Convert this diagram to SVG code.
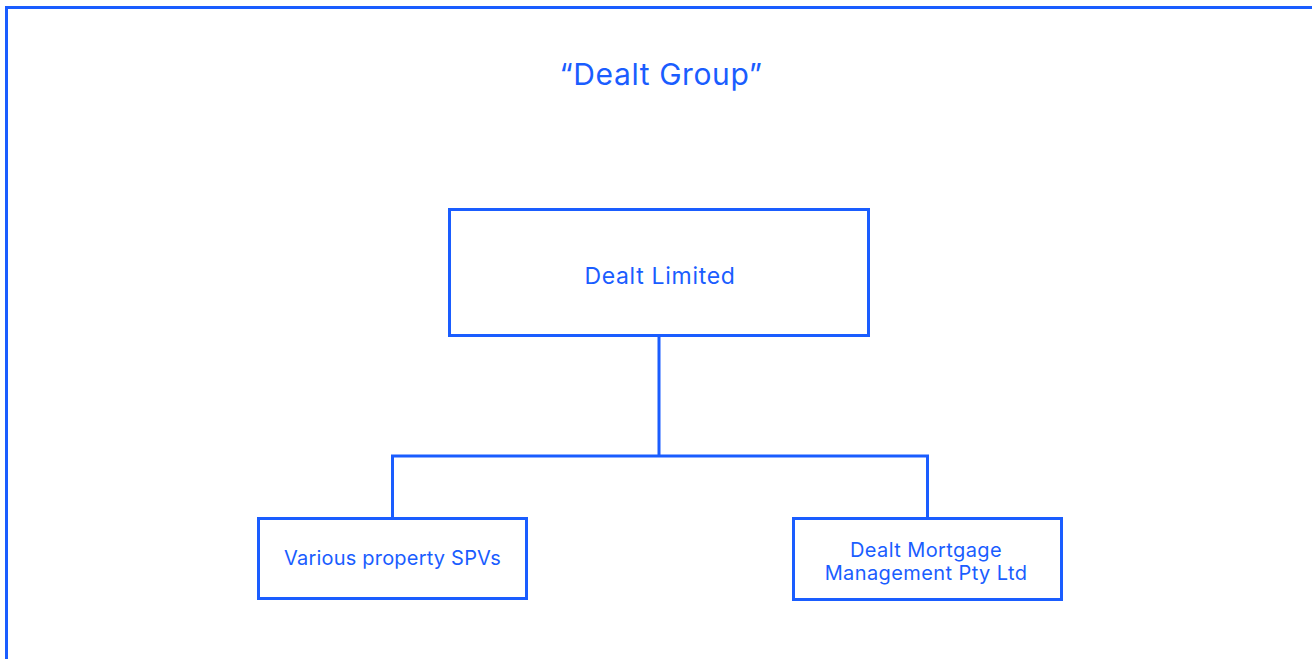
<svg xmlns="http://www.w3.org/2000/svg" width="1312" height="659" viewBox="0 0 1312 659">
<style>
.box{fill:#fff;stroke:#1a5dff;stroke-width:3}
.t{font-family:Inter,"Noto Sans",sans-serif;fill:#1a5dff;text-anchor:middle}
.c{fill:none;stroke:#1a5dff;stroke-width:3}
</style>
<rect x="0" y="0" width="1312" height="659" fill="#fff"/>
<rect x="6.5" y="7.5" width="1320" height="670" fill="none" stroke="#1a5dff" stroke-width="3"/>
<text class="t" x="661" y="85" font-size="30" letter-spacing="0.6">“Dealt Group”</text>
<g id="connectors">
<path class="c" d="M659 337V456M392.5 517.5V456H927.5V517.5"/>
</g>
<g id="dealt-limited">
<rect class="box" x="449.5" y="209.5" width="419" height="126"/>
<text class="t" x="660" y="284" font-size="23" letter-spacing="0.7">Dealt Limited</text>
</g>
<g id="spvs">
<rect class="box" x="258.5" y="518.5" width="268" height="80"/>
<text class="t" x="392.5" y="565" font-size="20" letter-spacing="0.2">Various property SPVs</text>
</g>
<g id="dmm">
<rect class="box" x="793.5" y="518.5" width="268" height="81"/>
<text class="t" x="926" y="557" font-size="20" letter-spacing="0.4">Dealt Mortgage</text>
<text class="t" x="926" y="580" font-size="20" letter-spacing="0.4">Management Pty Ltd</text>
</g>
</svg>
